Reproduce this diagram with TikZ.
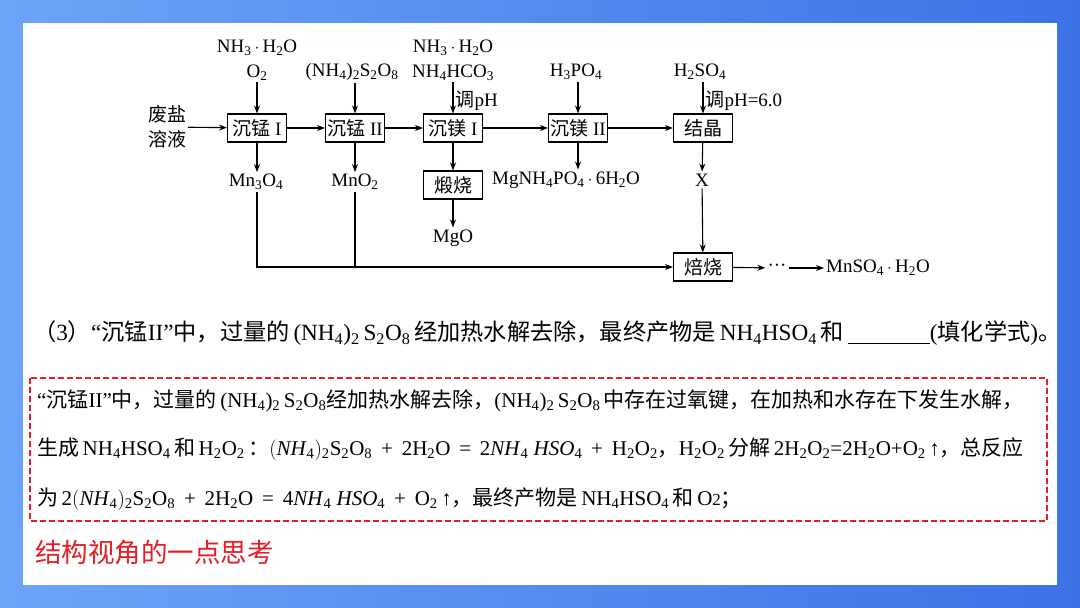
\documentclass[tikz,border=0pt]{standalone}
\usepackage{fontspec}
\setmainfont{Liberation Serif}
\newfontfamily\cjk{Noto Sans CJK SC}
\usetikzlibrary{
    arrows.meta,
    positioning,
    calc
}
\definecolor{bgleft}{RGB}{108,164,248}
\definecolor{bgright}{RGB}{60,114,230}
\definecolor{notered}{RGB}{232,28,36}
\newcommand\sbs[1]{\textsubscript{#1}}
\newcommand\dotm{\,$\cdot$\,}
\newcommand\op[1]{\hspace{0.42em}#1\hspace{0.42em}}
\newcommand\flowfont{\fontsize{19}{25}\selectfont}
\newcommand\qfont{\fontsize{23.2}{26}\selectfont}
\newcommand\notefont{\fontsize{21}{24}\selectfont}
\tikzstyle{stage} = [
    draw=black,
    line width=1.1pt,
    minimum width=59pt,
    minimum height=28pt,
    inner sep=0pt,
    font=\flowfont
]
\tikzstyle{flow} = [
    -{Stealth[length=8pt,width=6pt]},
    line width=1.1pt
]
\tikzstyle{pipe} = [
    line width=1.1pt
]
\tikzstyle{chem} = [
    font=\flowfont,
    inner sep=2pt,
    align=center
]

\begin{document}
\begin{tikzpicture}[x=1pt, y=-1pt]
        \useasboundingbox (0,0) rectangle (1080,608);
        % Slide background and panel
        \shade[left color=bgleft, right color=bgright] (0,0) rectangle (1080,608);
        \fill[white] (23,23) rectangle (1057,585);

        % Process stages
        \node[chem] (waste) at (167,127) {{\cjk 废盐}\\{\cjk 溶液}};
        \node[stage] (mn1) at (257,128) {{\cjk 沉锰} I};
        \node[stage] (mn2) at (355,128) {{\cjk 沉锰} II};
        \node[stage] (mg1) at (453,128) {{\cjk 沉镁} I};
        \node[stage] (mg2) at (578,128) {{\cjk 沉镁} II};
        \node[stage] (cryst) at (703,128) {\cjk 结晶};
        \node[stage] (calcine) at (453,185) {\cjk 煅烧};
        \node[stage] (roast) at (703,267) {\cjk 焙烧};

        \draw[flow] (waste) -- (mn1);
        \draw[flow] (mn1) -- (mn2);
        \draw[flow] (mn2) -- (mg1);
        \draw[flow] (mg1) -- (mg2);
        \draw[flow] (mg2) -- (cryst);

        % Reagents added
        \node[chem] (in1) at (257,60) {NH\sbs3\dotm H\sbs2O\\O\sbs2};
        \node[chem] (in2) at (352,72) {(NH\sbs4)\sbs2S\sbs2O\sbs8};
        \node[chem] (in3) at (453,60) {NH\sbs3\dotm H\sbs2O\\NH\sbs4HCO\sbs3};
        \node[chem] (in4) at (576,72) {H\sbs3PO\sbs4};
        \node[chem] (in5) at (700,72) {H\sbs2SO\sbs4};

        \draw[flow] (in1) -- (mn1);
        \draw[flow] (in2.south -| mn2) -- (mn2);
        \draw[flow] (in3) -- (mg1) node[pos=0.6, right, chem] {{\cjk 调}pH};
        \draw[flow] (in4.south -| mg2) -- (mg2);
        \draw[flow] (in5.south -| cryst) -- (cryst) node[pos=0.6, right, chem] {{\cjk 调}pH=6.0};

        % Products
        \node[chem] (mn3o4) at (256,182) {Mn\sbs3O\sbs4};
        \node[chem] (mno2) at (355,182) {MnO\sbs2};
        \node[chem] (mgo) at (453,238) {MgO};
        \node[chem, anchor=west] (struv) at (490,180) {MgNH\sbs4PO\sbs4\dotm 6H\sbs2O};
        \node[chem] (xprod) at (702,180) {X};

        \draw[flow] (mn1) -- (mn1 |- mn3o4.north);
        \draw[flow] (mn2) -- (mn2 |- mno2.north);
        \draw[flow] (mg1) -- (calcine);
        \draw[flow] (calcine) -- (mgo);
        \draw[flow] (mg2) -- (mg2 |- struv.north);
        \draw[flow] (cryst) -- (xprod);
        \draw[flow] (xprod) -- (roast);

        % Manganese oxides to roasting
        \draw[flow] (mn3o4.south -| mn1) |- (roast.west);
        \draw[pipe] (mno2.south -| mn2) -- (mn2 |- roast);

        \node[chem] (dots) at (777,268) {···};
        \node[chem, anchor=west] (product) at (824,268) {MnSO\sbs4\dotm H\sbs2O};
        \draw[flow] (roast) -- (dots);
        \draw[flow] (dots) -- (product);

        % Question
        \node[anchor=west, font=\qfont, inner sep=0pt] (question) at (33,333) {{\cjk （}3{\cjk ）}“{\cjk 沉锰}II”{\cjk 中，过量的}\,(NH\sbs4)\sbs2\,S\sbs2O\sbs8\,{\cjk 经加热水解去除，最终产物是}\,NH\sbs4HSO\sbs4\,{\cjk 和}\,\rule[-3pt]{82pt}{0.9pt}({\cjk 填化学式}){\cjk 。}};

        % Analysis
        \draw[notered, line width=1.8pt, dash pattern=on 6pt off 3pt] (30,378) rectangle (1047,521);
        \node[anchor=west, font=\notefont, inner sep=0pt] (line1) at (37,401) {“{\cjk 沉锰}II”{\cjk 中，过量的}\,(NH\sbs4)\sbs2\,S\sbs2O\sbs8{\cjk 经加热水解去除，}(NH\sbs4)\sbs2\,S\sbs2O\sbs8\,{\cjk 中存在过氧键，在加热和水存在下发生水解，}};
        \node[anchor=west, font=\notefont, inner sep=0pt] (line2) at (37,449) {{\cjk 生成}\,NH\sbs4HSO\sbs4\,{\cjk 和}\,H\sbs2O\sbs2\,{\cjk ：}$\Bigl($\textit{NH}\sbs4$\Bigr)$\sbs2S\sbs2O\sbs8\op{+}2H\sbs2O\op{=}2\textit{NH}\sbs4 \textit{HSO}\sbs4\op{+}H\sbs2O\sbs2{\cjk ，}H\sbs2O\sbs2\,{\cjk 分解}\,2H\sbs2O\sbs2=2H\sbs2O+O\sbs2\,↑{\cjk ，总反应}};
        \node[anchor=west, font=\notefont, inner sep=0pt] (line3) at (37,499) {{\cjk 为}\,2$\Bigl($\textit{NH}\sbs4$\Bigr)$\sbs2S\sbs2O\sbs8\op{+}2H\sbs2O\op{=}4\textit{NH}\sbs4 \textit{HSO}\sbs4\op{+}O\sbs2\,↑{\cjk ，最终产物是}\,NH\sbs4HSO\sbs4\,{\cjk 和}\,O{\fontsize{17}{17}\selectfont 2}{\cjk ；}};

        % Closing remark
        \node[anchor=west, font=\fontsize{26.5}{30}\selectfont\cjk, text=notered, inner sep=0pt] (remark) at (35,552) {结构视角的一点思考};
    \end{tikzpicture}
\end{document}
